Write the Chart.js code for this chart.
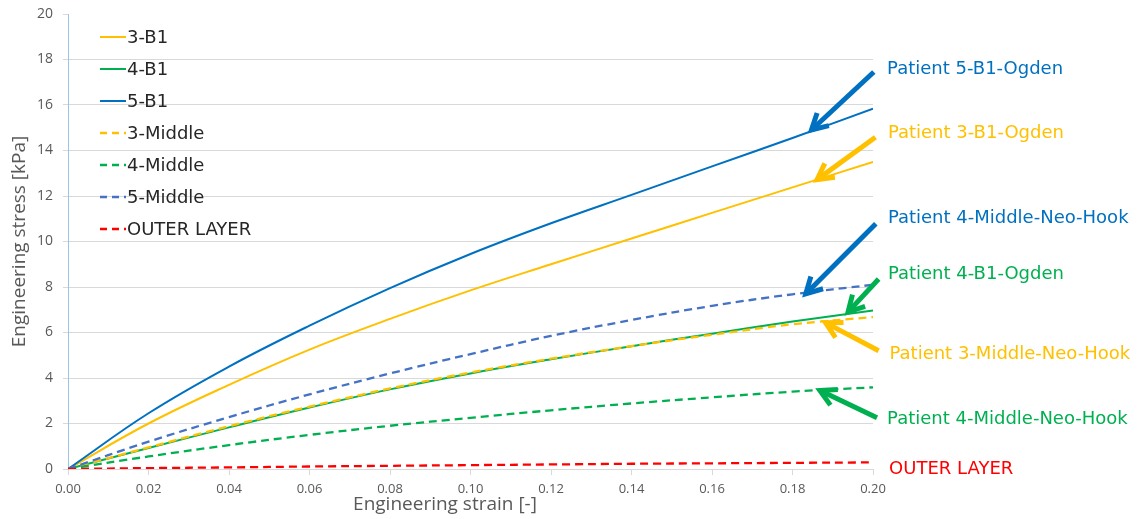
<!DOCTYPE html>
<html>
<head>
<meta charset="utf-8">
<script src="https://cdn.jsdelivr.net/npm/chart.js@4.4.0/dist/chart.umd.min.js"></script>
<style>
  html, body { margin: 0; padding: 0; background: #ffffff; }
  #wrap { width: 1144px; height: 519px; }
</style>
</head>
<body>
<div id="wrap"><canvas id="c" width="1144" height="519"></canvas></div>
<script>
// Engineering strain [-] sample positions
const strain = [0, 0.02, 0.04, 0.06, 0.08, 0.10, 0.12, 0.14, 0.16, 0.18, 0.20];

// Engineering stress [kPa] per sample
const b1_3   = [0, 2.00, 3.70, 5.25, 6.60, 7.85, 9.00, 10.13, 11.26, 12.38, 13.50];
const b1_4   = [0, 0.92, 1.83, 2.70, 3.50, 4.20, 4.82, 5.40, 5.95, 6.48, 6.97];
const b1_5   = [0, 2.45, 4.50, 6.30, 7.95, 9.45, 10.80, 12.05, 13.30, 14.55, 15.84];
const mid_3  = [0, 0.95, 1.88, 2.74, 3.54, 4.24, 4.85, 5.40, 5.90, 6.36, 6.68];
const mid_4  = [0, 0.55, 1.05, 1.50, 1.90, 2.25, 2.58, 2.88, 3.15, 3.40, 3.59];
const mid_5  = [0, 1.20, 2.28, 3.28, 4.20, 5.05, 5.85, 6.55, 7.17, 7.68, 8.10];
const outer  = [0, 0.04, 0.07, 0.11, 0.14, 0.17, 0.20, 0.23, 0.25, 0.27, 0.29];

const seriesLabels = ['3-B1', '4-B1', '5-B1', '3-Middle', '4-Middle', '5-Middle', 'OUTER LAYER'];

// Axis ticks
const xTicks = [0, 0.02, 0.04, 0.06, 0.08, 0.10, 0.12, 0.14, 0.16, 0.18, 0.20];
const xTickLabels = ['0.00', '0.02', '0.04', '0.06', '0.08', '0.10', '0.12', '0.14', '0.16', '0.18', '0.20'];
const yTicks = [0, 2, 4, 6, 8, 10, 12, 14, 16, 18, 20];
const yTickLabels = ['0', '2', '4', '6', '8', '10', '12', '14', '16', '18', '20'];

// Model callouts: text anchor [strain, stress]
const calloutText  = ['Patient 5-B1-Ogden', 'Patient 3-B1-Ogden', 'Patient 4-Middle-Neo-Hook',
                      'Patient 4-B1-Ogden', 'Patient 3-Middle-Neo-Hook', 'Patient 4-Middle-Neo-Hook', 'OUTER LAYER'];
const calloutAt    = [[0.2035, 17.58], [0.2037, 14.74], [0.2037, 11.03],
                      [0.2037, 8.57], [0.2041, 5.05], [0.2035, 2.17], [0.2040, -0.03]];
// Arrows: tail and tip [strain, stress]
const arrowFrom    = [[0.2002, 17.45], [0.2006, 14.58], [0.2007, 10.78], [0.2014, 8.35], [0.2014, 5.20], [0.2010, 2.25]];
const arrowTo      = [[0.1847, 14.90], [0.1861, 12.72], [0.1833, 7.70], [0.1938, 6.90], [0.1882, 6.43], [0.1868, 3.45]];

const BLUE = '#0070c0', YELLOW = '#ffc000', GREEN = '#00b050', BLUE2 = '#4472c4', RED = '#ff0000';
const calloutColor = [BLUE, YELLOW, BLUE, GREEN, YELLOW, GREEN, RED];
const arrowColor   = [BLUE, YELLOW, BLUE, GREEN, YELLOW, GREEN];

const pts = arr => strain.map((s, i) => ({ x: s, y: arr[i] }));

const styles = [
  { c: YELLOW, dash: [] }, { c: GREEN, dash: [] }, { c: BLUE, dash: [] },
  { c: YELLOW, dash: [8, 5] }, { c: GREEN, dash: [8, 5] }, { c: BLUE2, dash: [8, 5] }, { c: RED, dash: [8, 5] }
];
const values = [b1_3, b1_4, b1_5, mid_3, mid_4, mid_5, outer];

const datasets = values.map((v, i) => ({
  label: seriesLabels[i],
  data: pts(v),
  borderColor: styles[i].c,
  backgroundColor: styles[i].c,
  borderWidth: styles[i].dash.length ? 2.3 : 2,
  borderDash: styles[i].dash,
  pointRadius: 0,
  fill: false,
  tension: 0.4,
  order: values.length - i
}));

// Legend in the upper-left corner of the plot
const insideLegend = {
  id: 'insideLegend',
  afterDatasetsDraw(chart) {
    const { ctx, chartArea } = chart;
    const x0 = chartArea.left + 32, y0 = chartArea.top + 23, step = 32;
    ctx.save();
    ctx.font = '18px "DejaVu Sans"';
    ctx.textBaseline = 'middle';
    chart.data.datasets.forEach((ds, i) => {
      const y = y0 + i * step;
      ctx.beginPath();
      ctx.strokeStyle = ds.borderColor;
      ctx.lineWidth = ds.borderWidth;
      ctx.setLineDash(ds.borderDash.length ? [7, 5] : []);
      ctx.moveTo(x0, y);
      ctx.lineTo(x0 + 26, y);
      ctx.stroke();
      ctx.setLineDash([]);
      ctx.fillStyle = '#262626';
      ctx.fillText(ds.label, x0 + 27, y + 1);
    });
    ctx.restore();
  }
};

// Arrows and model labels to the right of the plot, plus the strain axis title
const callouts = {
  id: 'callouts',
  afterDraw(chart) {
    const { ctx, scales: { x, y }, chartArea } = chart;
    ctx.save();
    arrowFrom.forEach((f, i) => {
      const x1 = x.getPixelForValue(f[0]), y1 = y.getPixelForValue(f[1]);
      const x2 = x.getPixelForValue(arrowTo[i][0]), y2 = y.getPixelForValue(arrowTo[i][1]);
      const ang = Math.atan2(y2 - y1, x2 - x1);
      const head = 18, spread = 0.5;
      ctx.strokeStyle = arrowColor[i];
      ctx.lineWidth = 5;
      ctx.lineCap = 'butt';
      ctx.lineJoin = 'miter';
      ctx.beginPath();
      ctx.moveTo(x1, y1);
      ctx.lineTo(x2 - Math.cos(ang) * 3, y2 - Math.sin(ang) * 3);
      ctx.stroke();
      ctx.beginPath();
      ctx.moveTo(x2 - head * Math.cos(ang - spread), y2 - head * Math.sin(ang - spread));
      ctx.lineTo(x2, y2);
      ctx.lineTo(x2 - head * Math.cos(ang + spread), y2 - head * Math.sin(ang + spread));
      ctx.stroke();
    });
    ctx.font = '18px "DejaVu Sans"';
    ctx.textBaseline = 'middle';
    ctx.textAlign = 'left';
    calloutText.forEach((t, i) => {
      ctx.fillStyle = calloutColor[i];
      ctx.fillText(t, x.getPixelForValue(calloutAt[i][0]), y.getPixelForValue(calloutAt[i][1]));
    });
    ctx.font = '19px "Open Sans"';
    ctx.fillStyle = '#595959';
    ctx.textAlign = 'center';
    ctx.fillText('Engineering strain [-]', chartArea.left + 377, 505);
    ctx.restore();
  }
};

new Chart(document.getElementById('c'), {
  type: 'line',
  data: { datasets },
  options: {
    responsive: false,
    animation: false,
    devicePixelRatio: 1,
    layout: { padding: { left: 0, right: 271, top: 14, bottom: 0 } },
    plugins: { legend: { display: false }, tooltip: { enabled: false } },
    scales: {
      x: {
        type: 'linear',
        min: 0, max: 0.2,
        afterBuildTicks: s => { s.ticks = xTicks.map(v => ({ value: v })); },
        afterFit: s => { s.height = 50; s.paddingLeft = 0; s.paddingRight = 0; },
        ticks: {
          callback: (v, i) => xTickLabels[i],
          color: '#595959',
          font: { family: 'Open Sans', size: 13 },
          padding: 6,
          maxRotation: 0
        },
        grid: { drawOnChartArea: false, drawTicks: true, tickLength: 6, tickColor: '#d9d9d9' },
        border: { color: '#d9d9d9', width: 1 },
        title: { display: false }
      },
      y: {
        type: 'linear',
        min: 0, max: 20,
        afterBuildTicks: s => { s.ticks = yTicks.map(v => ({ value: v })); },
        afterFit: s => { s.width = 68; s.paddingTop = 0; s.paddingBottom = 0; },
        ticks: {
          callback: (v, i) => yTickLabels[i],
          color: '#595959',
          font: { family: 'Open Sans', size: 14 },
          padding: 10
        },
        grid: {
          color: c => (c.tick && c.tick.value === 20) ? 'rgba(0,0,0,0)' : '#d9d9d9',
          lineWidth: 1,
          tickLength: 5,
          tickColor: '#d9d9d9'
        },
        border: { color: '#9dc3e6', width: 1 },
        title: {
          display: true,
          text: 'Engineering stress [kPa]',
          color: '#595959',
          font: { family: 'Open Sans', size: 19 },
          padding: { top: 8, bottom: 0 }
        }
      }
    }
  },
  plugins: [insideLegend, callouts]
});
</script>
</body>
</html>
